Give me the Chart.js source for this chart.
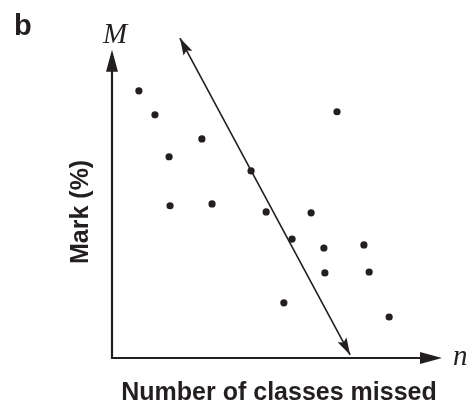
<!DOCTYPE html>
<html>
<head>
<meta charset="utf-8">
<script src="https://cdn.jsdelivr.net/npm/chart.js@4/dist/chart.umd.min.js"></script>
<style>
  body { margin: 0; background: #fff; }
  canvas { display: block; }
</style>
</head>
<body>
<canvas id="mycanvas" width="474" height="409"></canvas>
<script>
// classes missed (n) and mark in % (M)
var missed = [0.82, 1.31, 1.74, 2.74, 1.77, 3.05, 4.24, 4.70, 6.07, 5.49, 6.46, 7.68, 6.49, 7.84, 5.24, 8.45, 6.86];
var marks  = [86.7, 78.9, 65.3, 71.1, 49.4, 50.0, 60.7, 47.4, 47.1, 38.6, 35.7, 36.7, 27.6, 27.9, 17.9, 13.3, 79.9];

// the double-headed trend arrow
var trendN = [2.07, 7.26];
var trendM = [103.8, 1.0];

var panelLabel = "b";
var xTitle = "Number of classes missed";
var yTitle = "Mark (%)";
var xSymbol = "n";
var ySymbol = "M";

var ink = "#231f20";

var points = [];
for (var i in missed) {
  points.push({x: missed[i], y: marks[i]});
}
var trend = [];
for (var j in trendN) {
  trend.push({x: trendN[j], y: trendM[j]});
}

function arrowHead(ctx, x0, y0, x1, y1, len, half, notch) {
  var a = Math.atan2(y1 - y0, x1 - x0);
  ctx.save();
  ctx.translate(x1, y1);
  ctx.rotate(a);
  ctx.beginPath();
  ctx.moveTo(0, 0);
  ctx.lineTo(-len, -half);
  ctx.lineTo(-len + notch, 0);
  ctx.lineTo(-len, half);
  ctx.closePath();
  ctx.fill();
  ctx.restore();
}

var decorations = {
  id: "decorations",
  afterDatasetsDraw: function(chart) {
    var ctx = chart.ctx;
    var xs = chart.scales.x, ys = chart.scales.y;
    var ox = xs.getPixelForValue(0), oy = ys.getPixelForValue(0);
    var xEnd = xs.getPixelForValue(10) + 2;
    var yEnd = ys.getPixelForValue(100);

    ctx.save();
    ctx.strokeStyle = ink;
    ctx.fillStyle = ink;
    ctx.lineWidth = 2.2;
    ctx.lineCap = "butt";
    ctx.beginPath();
    ctx.moveTo(ox, yEnd + 10);
    ctx.lineTo(ox, oy);
    ctx.lineTo(xEnd - 10, oy);
    ctx.stroke();
    arrowHead(ctx, ox, oy, ox, yEnd, 22, 6, 0);
    arrowHead(ctx, ox, oy, xEnd, oy, 22, 6, 0);

    // trend arrow heads
    var meta = chart.getDatasetMeta(1);
    var p0 = meta.data[0], p1 = meta.data[1];
    arrowHead(ctx, p1.x, p1.y, p0.x, p0.y, 17, 5, 3);
    arrowHead(ctx, p0.x, p0.y, p1.x, p1.y, 17, 5, 3);

    // texts
    ctx.font = "bold 29px 'Liberation Sans Narrow', 'Liberation Sans', sans-serif";
    ctx.textAlign = "left";
    ctx.textBaseline = "alphabetic";
    ctx.fillText(panelLabel, 14, 35);

    ctx.font = "italic 29px 'Liberation Serif', 'DejaVu Serif', serif";
    ctx.textAlign = "center";
    ctx.fillText(ySymbol, ox + 3, 43);
    ctx.textAlign = "left";
    ctx.fillText(xSymbol, xEnd + 11, oy + 7);

    ctx.font = "bold 25px 'Liberation Sans', Arial, sans-serif";
    ctx.textAlign = "center";
    ctx.fillText(xTitle, (ox + xEnd) / 2 + 2, oy + 42);

    ctx.translate(ox - 31, (oy + yEnd) / 2 + 8);
    ctx.rotate(-Math.PI / 2);
    ctx.textBaseline = "middle";
    ctx.fillText(yTitle, 0, 0);
    ctx.restore();
  }
};

var ctx = document.getElementById("mycanvas");

var chart = new Chart(ctx, {
  type: "scatter",
  data: {
    datasets: [
      {
        label: "students",
        data: points,
        pointRadius: 3.6,
        pointBackgroundColor: ink,
        pointBorderWidth: 0,
        showLine: false
      },
      {
        label: "trend",
        type: "line",
        data: trend,
        borderColor: ink,
        borderWidth: 1.6,
        pointRadius: 0,
        fill: false
      }
    ]
  },
  options: {
    responsive: false,
    animation: false,
    devicePixelRatio: 1,
    layout: { padding: { left: 112, right: 34, top: 19, bottom: 51 } },
    plugins: { legend: { display: false }, tooltip: { enabled: false } },
    scales: {
      x: { type: "linear", min: 0, max: 10, display: false },
      y: { type: "linear", min: 0, max: 110, display: false }
    }
  },
  plugins: [decorations]
});
</script>
</body>
</html>
